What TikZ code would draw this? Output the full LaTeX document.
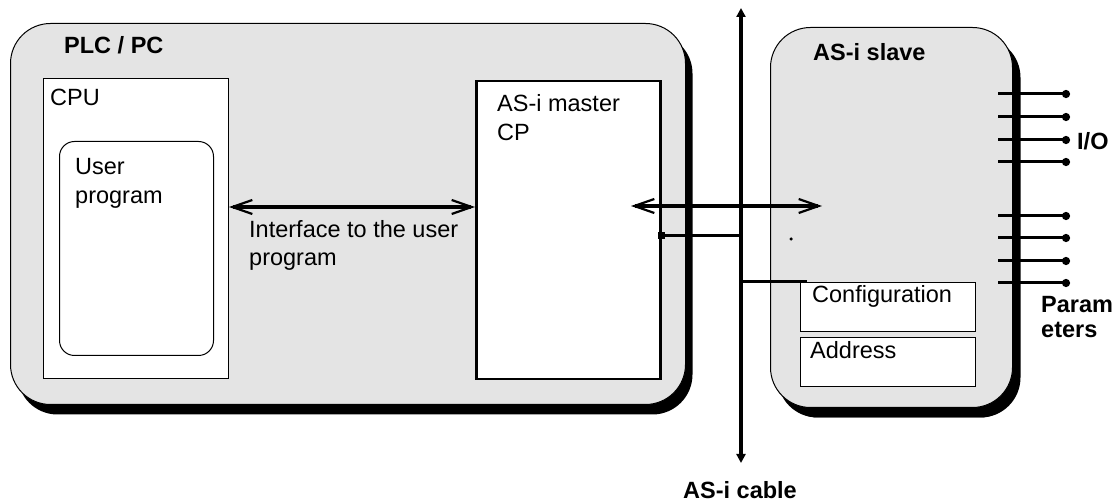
\documentclass[tikz,border=0pt]{standalone}
\usepackage{fontspec}
\setmainfont{Liberation Sans}
\usetikzlibrary{arrows.meta,shadows}
\definecolor{boxgray}{HTML}{E4E4E4}
\begin{document}
\begin{tikzpicture}[x=1pt,y=-1pt,
  font=\fontsize{23.5}{28.5}\selectfont,
  grayblock/.style={draw=black, line width=1pt, fill=boxgray, rounded corners=40pt,
    anchor=north west, inner sep=0,
    drop shadow={shadow xshift=7pt, shadow yshift=-10pt, fill=black, opacity=1}},
  whitebox/.style={draw=black, fill=white, line width=1pt, anchor=north west, inner sep=0},
  txt/.style={anchor=base west, inner sep=0, align=left},
  btxt/.style={txt, font=\fontsize{23.5}{28.5}\selectfont\bfseries},
  barb/.style={line width=4pt,
    {Straight Barb[length=20pt,width=14pt,line width=2.2pt]}-{Straight Barb[length=20pt,width=14pt,line width=2.2pt]}},
  wire/.style={line width=3pt},
  iopin/.style={line width=3pt, -{Circle[length=8pt,width=8pt]}},
]
\useasboundingbox (0,0) rectangle (1117,502);

% PLC / PC block
\node[grayblock, minimum width=675pt, minimum height=381pt] (plc) at (10,23) {};
\node[btxt] (plclabel) at (64,53.5) {PLC / PC};
\node[whitebox, minimum width=185pt, minimum height=300pt] (cpu) at (43,78) {};
\node[txt] (cpulabel) at (50,106) {CPU};
\node[whitebox, rounded corners=15pt, minimum width=154pt, minimum height=214pt] (user) at (59,141) {};
\node[txt] (userlabel) at (75,203.5) {User\\program};
\node[whitebox, line width=2.5pt, minimum width=184pt, minimum height=298pt] (master) at (475,80) {};
\node[txt] (masterlabel) at (497,140.5) {AS-i master\\CP};

% AS-i slave block
\node[grayblock, drop shadow={shadow xshift=8pt, shadow yshift=-10pt, fill=black, opacity=1},
  minimum width=242pt, minimum height=380pt] (slave) at (770,27) {};
\node[btxt] (slavelabel) at (813,61) {AS-i slave};
\node[whitebox, minimum width=175pt, minimum height=49pt] (config) at (800,282) {};
\node[txt] (configlabel) at (812,303) {Configuration};
\node[whitebox, minimum width=175pt, minimum height=49pt] (address) at (800,337) {};
\node[txt] (addresslabel) at (810,359) {Address};

% AS-i cable
\coordinate (ctop) at (741,8);
\coordinate (cbot) at (741,463);
\draw[line width=3.2pt, {Triangle[length=9pt,width=9pt]}-{Triangle[length=9pt,width=9pt]}] (ctop) -- (cbot);
\node[btxt, anchor=base] (cablelabel) at (740,498) {AS-i cable};

% interface to user program
\coordinate (ify) at (0,207);
\draw[barb] (cpu.east |- ify) -- (master.west |- ify);
\node[txt] (iflabel) at (249,266) {Interface to the user\\program};

% data exchange arrow
\coordinate (busL) at (631,206);
\coordinate (busR) at (822,206);
\draw[barb] (busL) -- (busR);

% master connection to cable
\coordinate (cy) at (0,236);
\node[fill=black, minimum size=7pt, inner sep=0] (sq) at (master.east |- cy) {};
\draw[wire] (sq.center) -- (ctop |- cy);
\node[fill=black, circle, minimum size=3.5pt, inner sep=0] (dot) at (791,239) {};

% slave connection to cable
\coordinate (cfgend) at (807,282);
\draw[wire] (ctop |- cfgend) -- (cfgend);

% I/O and parameter pins
\foreach \i/\yy in {1/94,2/117,3/140,4/162,5/216,6/238,7/261,8/283}{
  \coordinate (pin\i) at (1066,\yy);
  \draw[iopin] ([xshift=-15pt]slave.east |- pin\i) -- ([xshift=4pt]pin\i);
}
\node[btxt] (iolabel) at (1077,150) {I/O};
\node[btxt] (paramlabel) at (1041,313) {Param};
\node[btxt] (eterslabel) at (1041,338) {eters};
\end{tikzpicture}
\end{document}
